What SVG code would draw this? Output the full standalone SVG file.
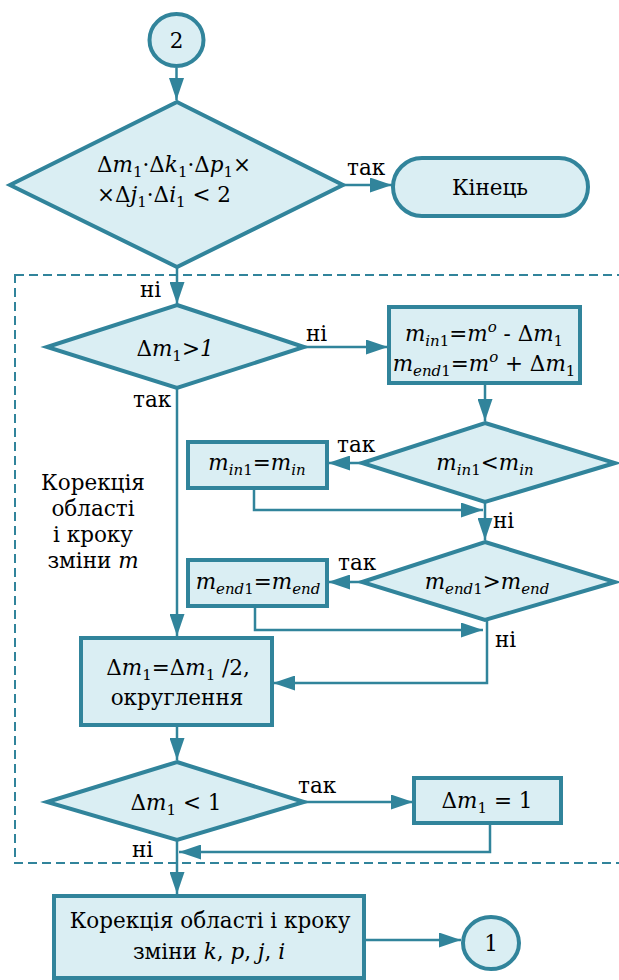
<svg xmlns="http://www.w3.org/2000/svg" width="619" height="980" viewBox="0 0 619 980">
<style>
.shape{fill:#daeef3;stroke:#31849b;stroke-width:4;}
.conn{fill:none;stroke:#31849b;stroke-width:2.5;}
.dash{fill:none;stroke:#31849b;stroke-width:2;stroke-dasharray:9,5;}
text{font-family:DejaVu Serif, Liberation Serif, serif;font-size:21.5px;fill:#000;}
.it{font-style:italic;}
.sub{font-size:15px;}
</style>
<defs>
<marker id="arr" markerUnits="userSpaceOnUse" markerWidth="22" markerHeight="15" refX="22" refY="7.5" orient="auto">
<path d="M0,0 L22,7.5 L0,15 z" fill="#31849b"/>
</marker>
</defs>
<rect class="dash" x="15" y="275" width="620" height="588"/>
<g id="connectors">
<path class="conn" d="M176.5,68 V100" marker-end="url(#arr)"/>
<path class="conn" d="M343,185 H392" marker-end="url(#arr)"/>
<path class="conn" d="M177,267 V304" marker-end="url(#arr)"/>
<path class="conn" d="M304,347 H388" marker-end="url(#arr)"/>
<path class="conn" d="M485,383 V421" marker-end="url(#arr)"/>
<path class="conn" d="M362,463 H328" marker-end="url(#arr)"/>
<path class="conn" d="M254,488 V510 H483" marker-end="url(#arr)"/>
<path class="conn" d="M485,502 V540" marker-end="url(#arr)"/>
<path class="conn" d="M362,582 H328" marker-end="url(#arr)"/>
<path class="conn" d="M255,606 V630 H483" marker-end="url(#arr)"/>
<path class="conn" d="M487,620 V683 H273" marker-end="url(#arr)"/>
<path class="conn" d="M177,388 V636" marker-end="url(#arr)"/>
<path class="conn" d="M177,725 V760" marker-end="url(#arr)"/>
<path class="conn" d="M304,802 H413" marker-end="url(#arr)"/>
<path class="conn" d="M490,823 V852 H179" marker-end="url(#arr)"/>
<path class="conn" d="M177,840 V894" marker-end="url(#arr)"/>
<path class="conn" d="M364,940 H461" marker-end="url(#arr)"/>
<text x="347" y="175">так</text>
<text x="140" y="297">ні</text>
<text x="306" y="341">ні</text>
<text x="133" y="407">так</text>
<text x="337" y="452">так</text>
<text x="493" y="528">ні</text>
<text x="338" y="570">так</text>
<text x="495" y="647">ні</text>
<text x="298" y="793">так</text>
<text x="132" y="857">ні</text>
</g>
<g id="start2">
<ellipse class="shape" cx="176.5" cy="40" rx="27" ry="26"/>
<text x="176.5" y="48" text-anchor="middle">2</text>
</g>
<g id="cond1">
<polygon class="shape" points="177,102 343,185 177,267 10,185"/>
<text x="97" y="172">Δ<tspan class="it">m</tspan><tspan class="sub" dy="5">1</tspan><tspan dy="-5">·Δ</tspan><tspan class="it">k</tspan><tspan class="sub" dy="5">1</tspan><tspan dy="-5">·Δ</tspan><tspan class="it">p</tspan><tspan class="sub" dy="5">1</tspan><tspan dy="-5">×</tspan></text>
<text x="97" y="202">×Δ<tspan class="it">j</tspan><tspan class="sub" dy="5">1</tspan><tspan dy="-5">·Δ</tspan><tspan class="it">i</tspan><tspan class="sub" dy="5">1</tspan><tspan dy="-5"> &lt; 2</tspan></text>
</g>
<g id="end">
<rect class="shape" x="393" y="158" width="195" height="58" rx="29" ry="29"/>
<text x="490" y="195" text-anchor="middle">Кінець</text>
</g>
<g id="cond2">
<polygon class="shape" points="177,305 304,347 177,388 47,347"/>
<text x="175" y="356" text-anchor="middle">Δ<tspan class="it">m</tspan><tspan class="sub" dy="5">1</tspan><tspan dy="-5">&gt;</tspan><tspan class="it">1</tspan></text>
</g>
<g id="box3">
<rect class="shape" x="389" y="307" width="191" height="76"/>
<text x="484" y="341" text-anchor="middle"><tspan class="it">m</tspan><tspan class="sub" dy="5"><tspan class="it">in</tspan>1</tspan><tspan dy="-5">=</tspan><tspan class="it">m</tspan><tspan class="sub it" dy="-9">o</tspan><tspan dy="9"> - Δ</tspan><tspan class="it">m</tspan><tspan class="sub" dy="5">1</tspan></text>
<text x="484" y="371" text-anchor="middle"><tspan class="it">m</tspan><tspan class="sub" dy="5"><tspan class="it">end</tspan>1</tspan><tspan dy="-5">=</tspan><tspan class="it">m</tspan><tspan class="sub it" dy="-9">o</tspan><tspan dy="9"> + Δ</tspan><tspan class="it">m</tspan><tspan class="sub" dy="5">1</tspan></text>
</g>
<g id="cond3">
<polygon class="shape" points="485,423 615,463 485,502 362,463"/>
<text x="485" y="470" text-anchor="middle"><tspan class="it">m</tspan><tspan class="sub" dy="5"><tspan class="it">in</tspan>1</tspan><tspan dy="-5">&lt;</tspan><tspan class="it">m</tspan><tspan class="sub it" dy="5">in</tspan></text>
</g>
<g id="box4">
<rect class="shape" x="188" y="442" width="139" height="46"/>
<text x="257" y="470" text-anchor="middle"><tspan class="it">m</tspan><tspan class="sub" dy="5"><tspan class="it">in</tspan>1</tspan><tspan dy="-5">=</tspan><tspan class="it">m</tspan><tspan class="sub it" dy="5">in</tspan></text>
</g>
<g id="cond4">
<polygon class="shape" points="485,542 615,582 485,620 362,582"/>
<text x="487" y="589" text-anchor="middle"><tspan class="it">m</tspan><tspan class="sub" dy="5"><tspan class="it">end</tspan>1</tspan><tspan dy="-5">&gt;</tspan><tspan class="it">m</tspan><tspan class="sub it" dy="5">end</tspan></text>
</g>
<g id="box5">
<rect class="shape" x="188" y="560" width="139" height="46"/>
<text x="258" y="589" text-anchor="middle"><tspan class="it">m</tspan><tspan class="sub" dy="5"><tspan class="it">end</tspan>1</tspan><tspan dy="-5">=</tspan><tspan class="it">m</tspan><tspan class="sub it" dy="5">end</tspan></text>
</g>
<g id="note">
<text x="93" y="490" text-anchor="middle">Корекція</text>
<text x="93" y="516" text-anchor="middle">області</text>
<text x="93" y="542" text-anchor="middle">і кроку</text>
<text x="93" y="568" text-anchor="middle">зміни <tspan class="it">m</tspan></text>
</g>
<g id="box6">
<rect class="shape" x="81" y="638" width="191" height="87"/>
<text x="178" y="675" text-anchor="middle">Δ<tspan class="it">m</tspan><tspan class="sub" dy="5">1</tspan><tspan dy="-5">=Δ</tspan><tspan class="it">m</tspan><tspan class="sub" dy="5">1</tspan><tspan dy="-5"> /2,</tspan></text>
<text x="177" y="705" text-anchor="middle">округлення</text>
</g>
<g id="cond7">
<polygon class="shape" points="177,762 304,802 177,840 47,802"/>
<text x="176" y="810" text-anchor="middle">Δ<tspan class="it">m</tspan><tspan class="sub" dy="5">1</tspan><tspan dy="-5"> &lt; 1</tspan></text>
</g>
<g id="box8">
<rect class="shape" x="414" y="778" width="147" height="45"/>
<text x="487" y="808" text-anchor="middle">Δ<tspan class="it">m</tspan><tspan class="sub" dy="5">1</tspan><tspan dy="-5"> = 1</tspan></text>
</g>
<g id="box9">
<rect class="shape" x="54" y="896" width="310" height="82"/>
<text x="210" y="928" text-anchor="middle">Корекція області і кроку</text>
<text x="209" y="959" text-anchor="middle">зміни <tspan class="it">k</tspan>, <tspan class="it">p</tspan>, <tspan class="it">j</tspan>, <tspan class="it">i</tspan></text>
</g>
<g id="end1">
<ellipse class="shape" cx="491" cy="943" rx="28" ry="26"/>
<text x="491" y="951" text-anchor="middle">1</text>
</g>
</svg>
